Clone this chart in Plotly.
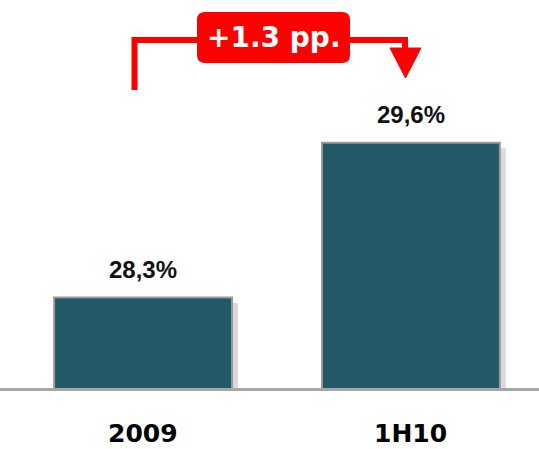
import plotly.graph_objects as go

# data
periods = ["2009", "1H10"]
shares = [28.3, 29.6]
change_label = "+1.3 pp."

W, H = 539, 449
y_lo, y_hi = 27.54, 30.8
plot_h = 388


def px(x):
    return x / W


def py(y):
    return (plot_h - y) / plot_h


fig = go.Figure()

# soft shadow behind the bars
fig.add_trace(go.Bar(
    x=[0, 1], y=[v - 0.045 for v in shares],
    width=0.664, offset=-0.332 + 0.022,
    marker=dict(color="rgba(0,0,0,0.15)", line=dict(width=0)),
    hoverinfo="skip", showlegend=False,
))

fig.add_trace(go.Bar(
    x=[0, 1], y=shares,
    width=0.664,
    marker=dict(color="#225868", line=dict(color="#999999", width=2)),
    showlegend=False,
))

# value labels above bars, period labels under the axis
for i, (p, v) in enumerate(zip(periods, shares)):
    fig.add_annotation(
        x=i, y=v, xref="x", yref="y",
        text=f"{v:.1f}%".replace(".", ","),
        showarrow=False, yanchor="bottom", yshift=13,
        font=dict(family="Liberation Sans Narrow, Arial Narrow, sans-serif",
                  size=24, color="#111111", weight="bold"),
    )
    fig.add_annotation(
        x=i, y=py(433), xref="x", yref="paper",
        text=p, showarrow=False, yanchor="middle", borderpad=0,
        font=dict(family="DejaVu Sans, sans-serif", size=25,
                  color="black", weight="bold"),
    )

# red bracket arrow
red = "#ff0000"
path = "M {} {} L {} {} L {} {} L {} {}".format(
    px(134.5), py(90), px(134.5), py(40), px(405), py(40), px(405), py(52))
fig.add_shape(type="path", path=path, xref="paper", yref="paper",
              line=dict(color=red, width=6))
tri = "M {} {} L {} {} L {} {} Z".format(
    px(390), py(48), px(421), py(48), px(405.5), py(78))
fig.add_shape(type="path", path=tri, xref="paper", yref="paper",
              fillcolor=red, line=dict(color=red, width=1))

# rounded red label box
x0, x1, y0, y1, r = px(197), px(350), py(63), py(12), 8
rx, ry = r / W, r / plot_h
box = ("M {a} {b} L {c} {b} Q {d} {b} {d} {e} L {d} {f} Q {d} {g} {c} {g} "
       "L {a} {g} Q {h} {g} {h} {f} L {h} {e} Q {h} {b} {a} {b} Z").format(
    a=x0 + rx, b=y0, c=x1 - rx, d=x1, e=y0 + ry, f=y1 - ry, g=y1, h=x0)
fig.add_shape(type="path", path=box, xref="paper", yref="paper",
              fillcolor=red, line=dict(color=red, width=0))
fig.add_annotation(
    x=px(273.5), y=py(38), xref="paper", yref="paper",
    xanchor="center", yanchor="middle",
    text=change_label, showarrow=False,
    font=dict(family="DejaVu Sans, sans-serif", size=28,
              color="white", weight="bold"),
)

fig.update_layout(
    width=W, height=H,
    margin=dict(l=0, r=0, t=0, b=H - plot_h, autoexpand=False),
    paper_bgcolor="white", plot_bgcolor="white",
    barmode="overlay",
    xaxis=dict(
        range=[-0.534, 1.478], showticklabels=False,
        showgrid=False, zeroline=False, automargin=False,
        showline=True, linecolor="#a6a6a6", linewidth=3, ticks="",
    ),
    yaxis=dict(range=[y_lo, y_hi], visible=False, showgrid=False,
               automargin=False),
)

fig.write_html("out.html", config={"displayModeBar": False},
               post_script="document.body.style.margin='0';")
